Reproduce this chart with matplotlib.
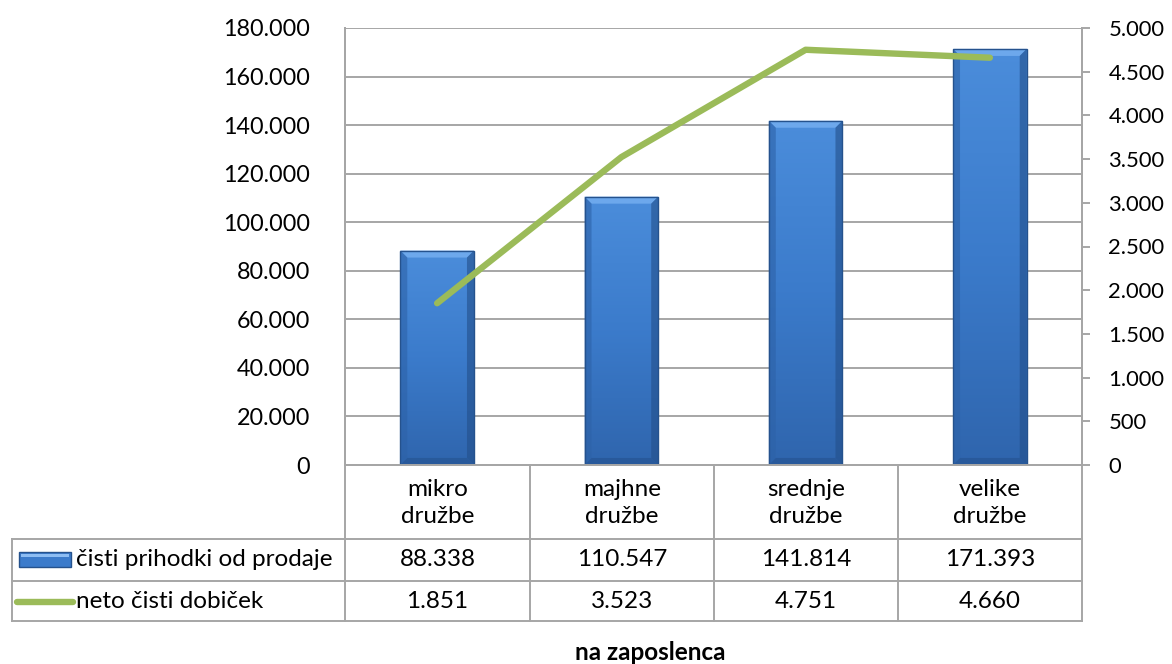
import numpy as np
import matplotlib
matplotlib.use("Agg")
import matplotlib.pyplot as plt
from matplotlib.lines import Line2D
from matplotlib.patches import Rectangle, Polygon
from matplotlib.colors import LinearSegmentedColormap

plt.rcParams['font.family'] = ['Lato', 'DejaVu Sans']

categories = ['mikro\ndružbe', 'majhne\ndružbe', 'srednje\ndružbe', 'velike\ndružbe']
revenue = [88338, 110547, 141814, 171393]
profit = [1851, 3523, 4751, 4660]
series_names = ['čisti prihodki od prodaje', 'neto čisti dobiček']
title = 'na zaposlenca'

W, H = 1172, 664
fig = plt.figure(figsize=(W / 100, H / 100), dpi=100)


def fx(x):
    return x / W


def fy(y):
    return 1 - y / H


left, right, top, bottom = 345, 1082, 28, 465
ax = fig.add_axes([fx(left), fy(bottom), fx(right) - fx(left), fy(top) - fy(bottom)])
ax2 = ax.twinx()

grey = '#a6a6a6'
fmt = lambda v: f"{v:,.0f}".replace(',', '.')

x = np.arange(len(categories))
bw = 0.4
cmap = LinearSegmentedColormap.from_list('bar', ['#4b8ddb', '#3b7bcb', '#2f65ad'])
grad = np.linspace(0, 1, 256).reshape(-1, 1)
bars = ax.bar(x, revenue, width=bw, color='none', edgecolor='#25528d', linewidth=1.0, zorder=3)
bev_x = 7 / 184
bev_y = 7 * 180000 / 436
for b in bars:
    x0, x1 = b.get_x(), b.get_x() + b.get_width()
    h = b.get_height()
    im = ax.imshow(grad, cmap=cmap, aspect='auto', extent=[x0, x1, 0, h], zorder=2)
    im.set_clip_path(b)
    # bevel: light top, darker sides
    ax.add_patch(Polygon([[x0, h], [x1, h], [x1 - bev_x, h - bev_y], [x0 + bev_x, h - bev_y]],
                         closed=True, color='#74aef0', alpha=0.85, lw=0, zorder=2.5))
    ax.add_patch(Polygon([[x0, h], [x0 + bev_x, h - bev_y], [x0 + bev_x, bev_y], [x0, 0]],
                         closed=True, color='#2d62a8', alpha=0.6, lw=0, zorder=2.5))
    ax.add_patch(Polygon([[x1, h], [x1 - bev_x, h - bev_y], [x1 - bev_x, bev_y], [x1, 0]],
                         closed=True, color='#234f8a', alpha=0.6, lw=0, zorder=2.5))
    ax.add_patch(Polygon([[x0, 0], [x1, 0], [x1 - bev_x, bev_y], [x0 + bev_x, bev_y]],
                         closed=True, color='#234f8a', alpha=0.5, lw=0, zorder=2.5))

ax.set_xlim(-0.5, len(categories) - 0.5)
ax.set_ylim(0, 180000)
ax.set_yticks(np.arange(0, 180001, 20000))
ax.set_yticklabels([fmt(v) for v in np.arange(0, 180001, 20000)])
ax.set_xticks([])
ax.grid(axis='y', color=grey, linewidth=1.4)
ax.set_axisbelow(True)
ax.tick_params(axis='y', length=0, pad=25, labelsize=16.8)

ax2.plot(x, profit, color='#9bbb59', linewidth=4.6, solid_capstyle='round', zorder=4)
ax2.set_ylim(0, 5000)
ax2.set_yticks(np.arange(0, 5001, 500))
ax2.set_yticklabels([fmt(v) for v in np.arange(0, 5001, 500)])
ax2.tick_params(axis='y', length=6, width=1.4, color=grey, pad=13, labelsize=15.8)

for a in (ax, ax2):
    a.spines['top'].set_visible(False)
    for s in ('left', 'right', 'bottom'):
        a.spines[s].set_color(grey)
        a.spines[s].set_linewidth(1.4)

# data table
cols = [345, 530, 714, 898, 1082]
r0, r1, r2, r3 = 465, 539, 581, 621
tl = 12
fs = 17.5


def hline(y, xa, xb):
    fig.add_artist(Line2D([fx(xa), fx(xb)], [fy(y), fy(y)], color=grey, lw=1.4))


def vline(xp, ya, yb):
    fig.add_artist(Line2D([fx(xp), fx(xp)], [fy(ya), fy(yb)], color=grey, lw=1.4))


for y in (r1, r2, r3):
    hline(y, tl, cols[-1])
for c in cols:
    vline(c, r0, r3)
vline(tl, r1, r3)

for i, cat in enumerate(categories):
    cx = (cols[i] + cols[i + 1]) / 2
    fig.text(fx(cx), fy((r0 + r1) / 2 + 1), cat, ha='center', va='center',
             fontsize=fs, linespacing=1.35)
    fig.text(fx(cx), fy((r1 + r2) / 2), fmt(revenue[i]), ha='center', va='center', fontsize=fs)
    fig.text(fx(cx), fy((r2 + r3) / 2), fmt(profit[i]), ha='center', va='center', fontsize=fs)

# legend keys in table
key = Rectangle((fx(19), fy(567)), fx(71) - fx(19), fy(552) - fy(567),
                facecolor='#3b7bcb', edgecolor='#25528d', lw=1, transform=fig.transFigure)
fig.add_artist(key)
fig.add_artist(Rectangle((fx(21), fy(557)), fx(69) - fx(21), fy(554) - fy(557),
                         facecolor='#8dbdf3', lw=0, transform=fig.transFigure))
fig.add_artist(Line2D([fx(17), fx(73)], [fy(602), fy(602)], color='#9bbb59', lw=4.6,
                      solid_capstyle='round'))
fig.text(fx(76), fy((r1 + r2) / 2), series_names[0], ha='left', va='center', fontsize=fs)
fig.text(fx(76), fy((r2 + r3) / 2), series_names[1], ha='left', va='center', fontsize=fs)

fig.text(fx(650), fy(653), title, ha='center', va='center', fontsize=17.5, fontweight='bold')

fig.savefig('out.png', dpi=100)
